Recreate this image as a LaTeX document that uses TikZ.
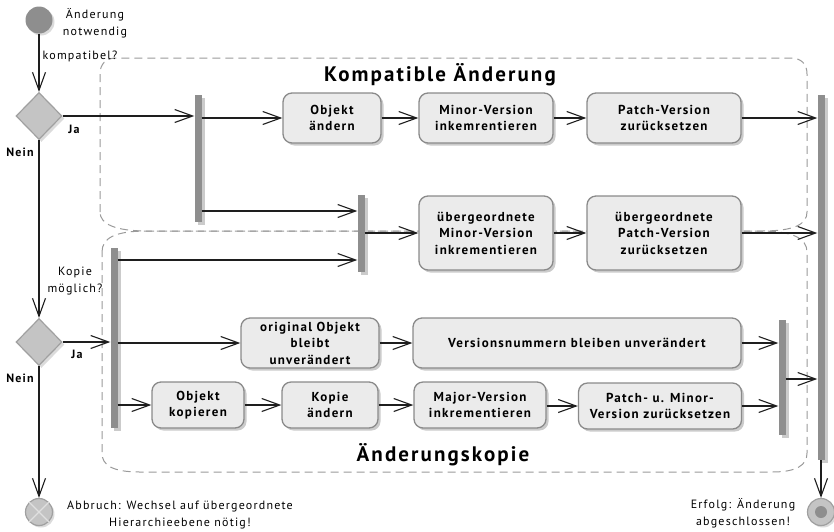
\documentclass[tikz,border=0pt]{standalone}
\usepackage{fontspec}
\setmainfont{PT Sans}[LetterSpace=10]
\usetikzlibrary{arrows.meta,shapes.geometric,shadows}

\definecolor{ink}{HTML}{1E1E1E}
\definecolor{boxfill}{HTML}{EBEBEB}
\definecolor{boxline}{HTML}{8A8A8A}
\definecolor{shade}{HTML}{CBCBCB}
\definecolor{barfill}{HTML}{8E8E8E}
\definecolor{decfill}{HTML}{C4C4C4}
\definecolor{decline}{HTML}{A0A0A0}
\definecolor{region}{HTML}{9A9A9A}

\begin{document}
\begin{tikzpicture}[x=1pt,y=-1pt,
  flow/.style={draw=ink, line width=1.1pt,
    -{Straight Barb[length=18pt,width=13pt,line width=1.1pt]}},
  actbox/.style={rectangle, rounded corners=9pt, draw=boxline, line width=1.3pt,
    fill=boxfill, align=center, inner sep=2pt,
    font=\bfseries\fontsize{13}{16.5}\selectfont,
    drop shadow={shadow xshift=2.5pt, shadow yshift=-2.5pt, fill=shade, opacity=1}},
  syncbar/.style={rectangle, fill=barfill, minimum width=7pt, inner sep=0pt,
    drop shadow={shadow xshift=3pt, shadow yshift=-3pt, fill=shade, opacity=1}},
  decision/.style={diamond, aspect=1, minimum width=46pt, minimum height=47pt,
    inner sep=0pt, fill=decfill, draw=decline, line width=1.2pt,
    drop shadow={shadow xshift=2.5pt, shadow yshift=-2.5pt, fill=shade!70, opacity=1}},
  guard/.style={font=\bfseries\fontsize{12}{14}\selectfont, inner sep=0pt},
  note/.style={font=\fontsize{12}{16.5}\selectfont, align=center, inner sep=0pt},
  title/.style={font=\bfseries\fontsize{21}{24}\selectfont, inner sep=0pt},
  area/.style={draw=region, line width=1pt, dash pattern=on 8pt off 5pt}
]
\useasboundingbox (0,0) rectangle (834,531);

% partition outlines
\draw[area] (100,212) -- (100,74) .. controls (100,64) and (106,58) .. (116,58)
  -- (791,58) .. controls (801,58) and (807,64) .. (807,74) -- (807,212)
  .. controls (807,224) and (795,231) .. (762,231) -- (147,231)
  .. controls (115,231) and (100,224) .. (100,212);
\draw[area] (102,252) .. controls (102,238) and (115,231) .. (147,231) -- (760,231)
  .. controls (792,231) and (807,238) .. (807,252) -- (807,453)
  .. controls (807,465) and (797,472) .. (772,472) -- (140,472)
  .. controls (112,472) and (102,465) .. (102,453) -- cycle;
\node[title] (tcomp) at (440,75) {Kompatible Änderung};
\node[title] (tcopy) at (443,455) {Änderungskopie};

% start node
\node[circle, fill=barfill, minimum size=27pt, inner sep=0pt,
  drop shadow={shadow xshift=2pt, shadow yshift=-2pt, fill=shade!70, opacity=1}]
  (start) at (39,20) {};
\node[note] (startlbl) at (95,23) {Änderung\\notwendig};

% decisions
\node[decision] (d1) at (39,116) {};
\node[decision] (d2) at (39,342) {};

% synchronisation bars
\node[syncbar, minimum height=127pt] (b1) at (198,158.5) {};
\node[syncbar, minimum height=77pt]  (b2) at (361,233.5) {};
\node[syncbar, minimum height=180pt] (b3) at (114,338) {};
\node[syncbar, minimum height=115pt] (b4) at (782,377.5) {};
\node[syncbar, minimum height=365pt] (b5) at (821,277.5) {};

% actions: compatible change
\node[actbox, minimum width=98pt,  minimum height=50pt] (oae)   at (332,118) {Objekt\\ändern};
\node[actbox, minimum width=134pt, minimum height=50pt] (minor) at (486,118) {Minor-Version\\inkemrentieren};
\node[actbox, minimum width=154pt, minimum height=50pt] (patch) at (664,118) {Patch-Version\\zurücksetzen};
\node[actbox, minimum width=134pt, minimum height=74pt] (uminor) at (486,233) {übergeordnete\\Minor-Version\\inkrementieren};
\node[actbox, minimum width=154pt, minimum height=74pt] (upatch) at (664,233) {übergeordnete\\Patch-Version\\zurücksetzen};

% actions: change copy
\node[actbox, minimum width=138pt, minimum height=50pt, inner ysep=0pt] (orig) at (310,343) {original Objekt\\bleibt\\unverändert};
\node[actbox, minimum width=328pt, minimum height=50pt] (vers) at (577,343) {Versionsnummern bleiben unverändert};
\node[actbox, minimum width=92pt,  minimum height=46pt] (okop) at (198,405) {Objekt\\kopieren};
\node[actbox, minimum width=96pt,  minimum height=46pt] (kaen) at (330,405) {Kopie\\ändern};
\node[actbox, minimum width=132pt, minimum height=46pt] (major) at (480,405) {Major-Version\\inkrementieren};
\node[actbox, minimum width=163pt, minimum height=46pt] (pum) at (660,406) {Patch- u. Minor-\\Version zurücksetzen};

% final nodes
\node[circle, fill=decfill, draw=decline, line width=1.2pt, minimum size=27pt, inner sep=0pt,
  drop shadow={shadow xshift=2pt, shadow yshift=-2pt, fill=shade!70, opacity=1}]
  (abort) at (39,512) {};
\draw[white!88!black, line width=1.2pt] (abort.north east) -- (abort.south west)
  (abort.north west) -- (abort.south east);
\node[circle, fill=decfill, draw=decline, line width=1.2pt, minimum size=27pt, inner sep=0pt,
  drop shadow={shadow xshift=2pt, shadow yshift=-2pt, fill=shade!70, opacity=1}]
  (done) at (821,512) {};
\node[circle, fill=barfill, minimum size=12pt, inner sep=0pt] (donedot) at (done) {};
\node[note] (abortlbl) at (180,515) {Abbruch: Wechsel auf übergeordnete\\Hierarchieebene nötig!};
\node[note] (donelbl) at (743,513) {Erfolg: Änderung\\abgeschlossen!};

% levels used by bar-to-bar flows
\coordinate (lvA) at (0,211);
\coordinate (lvB) at (0,260);
\coordinate (lvC) at (0,379);

% control flow
\draw[flow] (start) -- (d1.north);
\node[note] (q1) at (80,56) {kompatibel?};
\draw[flow] (d1.east) -- (d1.east -| b1.west);
\node[guard] (ja1) at (74,129) {Ja};
\draw[flow] (b1.east |- oae.west) -- (oae.west);
\draw[flow] (oae) -- (minor);
\draw[flow] (minor) -- (patch);
\draw[flow] (patch) -- (patch.east -| b5.west);
\draw[flow] (b1.east |- lvA) -- (b2.west |- lvA);
\draw[flow] (b2.east |- uminor.west) -- (uminor.west);
\draw[flow] (uminor) -- (upatch);
\draw[flow] (upatch) -- (upatch.east -| b5.west);

\draw[flow] (d1.south) -- (d2.north);
\node[guard] (nein1) at (20,152) {Nein};
\node[note] (q2) at (75,281) {Kopie\\möglich?};
\draw[flow] (d2.east) -- (d2.east -| b3.west);
\node[guard] (ja2) at (77,354) {Ja};
\node[guard] (nein2) at (20,378) {Nein};
\draw[flow] (b3.east |- lvB) -- (b2.west |- lvB);
\draw[flow] (b3.east |- orig.west) -- (orig.west);
\draw[flow] (orig) -- (vers);
\draw[flow] (vers) -- (vers.east -| b4.west);
\draw[flow] (b3.east |- okop.west) -- (okop.west);
\draw[flow] (okop) -- (kaen);
\draw[flow] (kaen) -- (major);
\draw[flow] (major.east |- pum.west) -- (pum.west);
\draw[flow] (pum) -- (pum.east -| b4.west);
\draw[flow] (b4.east |- lvC) -- (b5.west |- lvC);

\draw[flow] (d2.south) -- (abort.north);
\draw[flow] (b5.south) -- (done.north);
\end{tikzpicture}
\end{document}
